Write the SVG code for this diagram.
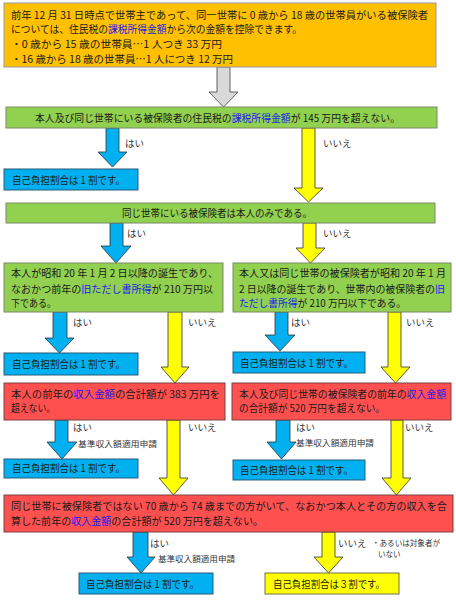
<svg xmlns="http://www.w3.org/2000/svg" width="456" height="600" viewBox="0 0 456 600">
<style>
text{font-family:"Noto Sans CJK JP","Noto Sans CJK SC",sans-serif;fill:#1a1a1a;}
.t{font-size:10px;}
.lb{font-size:9.5px;fill:#333;}
.sm{font-size:7.5px;fill:#333;}
.k{fill:#1a1aee;}
.or{fill:#FFC000;stroke:#9a9a9a;stroke-width:1;}
.gr{fill:#92D050;stroke:#7a8a6a;stroke-width:1;}
.bl{fill:#00B0F0;stroke:#2a5a78;stroke-width:1;}
.rd{fill:#FF5050;stroke:#7a4040;stroke-width:1;}
.ye{fill:#FFFF00;stroke:#707050;stroke-width:1;}
.ab{fill:#00B0F0;stroke:#303030;stroke-width:0.8;}
.ay{fill:#FFFF00;stroke:#303030;stroke-width:0.8;}
.ag{fill:#D9D9D9;stroke:#404040;stroke-width:0.8;}
</style>
<rect width="456" height="600" fill="#fff"/>
<g id="connectors">
<polygon class="ag" points="217,67 230,67 230,92 238,92 223.5,107 209,92 217,92"/>
<polygon class="ab" points="106,128 119,128 119,152 127,152 112.5,167 98,152 106,152"/>
<polygon class="ay" points="302,128 315,128 315,188 323,188 308.5,202 294,188 302,188"/>
<polygon class="ab" points="110,223 123,223 123,246 131,246 116,263 101,246 110,246"/>
<polygon class="ay" points="303,223 316,223 316,248 325,248 310.5,263 296,248 303,248"/>
<polygon class="ab" points="53,312 67,312 67,338 74,338 59.5,353 45,338 53,338"/>
<polygon class="ay" points="168,312 182,312 182,367 189,367 175,383 161,367 168,367"/>
<polygon class="ab" points="275,312 288,312 288,335 295,335 280,351 265,335 275,335"/>
<polygon class="ay" points="388,312 401,312 401,367 410,367 395.5,383 381,367 388,367"/>
<polygon class="ab" points="55,420 68,420 68,442 77,442 62,459 47,442 55,442"/>
<polygon class="ay" points="167,420 180,420 180,478 188,478 173.5,495 159,478 167,478"/>
<polygon class="ab" points="276,420 290,420 290,442 296,442 281.5,459 267,442 276,442"/>
<polygon class="ay" points="391,420 403,420 403,478 411,478 396.5,495 382,478 391,478"/>
<polygon class="ab" points="133,532 148,532 148,557 155,557 141,573 127,557 133,557"/>
<polygon class="ay" points="322,532 335,532 335,557 343,557 328.5,573 314,557 322,557"/>
<text class="lb" x="125" y="147">はい</text>
<text class="lb" x="323" y="147">いいえ</text>
<text class="lb" x="127" y="237">はい</text>
<text class="lb" x="323" y="237">いいえ</text>
<text class="lb" x="73" y="326">はい</text>
<text class="lb" x="188" y="326">いいえ</text>
<text class="lb" x="291" y="326">はい</text>
<text class="lb" x="406" y="326">いいえ</text>
<text class="lb" x="73" y="431">はい</text>
<text class="sm" x="78" y="447" textLength="79" lengthAdjust="spacingAndGlyphs">基準収入額適用申請</text>
<text class="lb" x="188" y="431">いいえ</text>
<text class="lb" x="296" y="431">はい</text>
<text class="sm" x="296" y="446" textLength="78" lengthAdjust="spacingAndGlyphs">基準収入額適用申請</text>
<text class="lb" x="405" y="431">いいえ</text>
<text class="lb" x="150" y="547">はい</text>
<text class="sm" x="158" y="562" textLength="77" lengthAdjust="spacingAndGlyphs">基準収入額適用申請</text>
<text class="lb" x="338" y="547">いいえ</text>
<text class="sm" x="372" y="546" textLength="68" lengthAdjust="spacingAndGlyphs">・あるいは対象者が</text>
<text class="sm" x="378" y="557">いない</text>
</g>
<g id="intro">
<rect class="or" x="4" y="3" width="432" height="64"/>
<text class="t" x="11" y="18.5" textLength="417" lengthAdjust="spacingAndGlyphs">前年 12 月 31 日時点で世帯主であって、同一世帯に 0 歳から 18 歳の世帯員がいる被保険者</text>
<text class="t" x="11" y="33" textLength="291" lengthAdjust="spacingAndGlyphs">については、住民税の<tspan class="k">課税所得金額</tspan>から次の金額を控除できます。</text>
<text class="t" x="11" y="48" textLength="211" lengthAdjust="spacingAndGlyphs">・0 歳から 15 歳の世帯員…1 人つき 33 万円</text>
<text class="t" x="11" y="63" textLength="222" lengthAdjust="spacingAndGlyphs">・16 歳から 18 歳の世帯員…1 人につき 12 万円</text>
</g>
<g id="q1">
<rect class="gr" x="6" y="107" width="431" height="21"/>
<text class="t" x="35" y="121.5" textLength="365" lengthAdjust="spacingAndGlyphs">本人及び同じ世帯にいる被保険者の住民税の<tspan class="k">課税所得金額</tspan>が 145 万円を超えない。</text>
</g>
<g id="r1">
<rect class="bl" x="4" y="169" width="134" height="21"/>
<text class="t" x="12" y="183.5" textLength="113" lengthAdjust="spacingAndGlyphs">自己負担割合は 1 割です。</text>
</g>
<g id="q2">
<rect class="gr" x="6" y="203" width="429" height="20"/>
<text class="t" x="122" y="216.5" textLength="190" lengthAdjust="spacingAndGlyphs">同じ世帯にいる被保険者は本人のみである。</text>
</g>
<g id="q3a">
<rect class="gr" x="4" y="263" width="219" height="49"/>
<text class="t" x="11" y="277" textLength="207" lengthAdjust="spacingAndGlyphs">本人が昭和 20 年 1 月 2 日以降の誕生であり、</text>
<text class="t" x="11" y="293" textLength="202" lengthAdjust="spacingAndGlyphs">なおかつ前年の<tspan class="k">旧ただし書所得</tspan>が 210 万円以</text>
<text class="t" x="11" y="307" textLength="45" lengthAdjust="spacingAndGlyphs">下である。</text>
</g>
<g id="q3b">
<rect class="gr" x="233" y="263" width="218" height="49"/>
<text class="t" x="239" y="277" textLength="207" lengthAdjust="spacingAndGlyphs">本人又は同じ世帯の被保険者が昭和 20 年 1 月</text>
<text class="t" x="239" y="293" textLength="206" lengthAdjust="spacingAndGlyphs">2 日以降の誕生であり、世帯内の被保険者の<tspan class="k">旧</tspan></text>
<text class="t" x="239" y="307" textLength="167" lengthAdjust="spacingAndGlyphs"><tspan class="k">ただし書所得</tspan>が 210 万円以下である。</text>
</g>
<g id="r3a">
<rect class="bl" x="4" y="353" width="134" height="22"/>
<text class="t" x="12" y="368" textLength="113" lengthAdjust="spacingAndGlyphs">自己負担割合は 1 割です。</text>
</g>
<g id="r3b">
<rect class="bl" x="233" y="352" width="132" height="21"/>
<text class="t" x="240" y="366.5" textLength="113" lengthAdjust="spacingAndGlyphs">自己負担割合は 1 割です。</text>
</g>
<g id="q4a">
<rect class="rd" x="4" y="383" width="221" height="37"/>
<text class="t" x="11" y="397.5" textLength="209" lengthAdjust="spacingAndGlyphs">本人の前年の<tspan class="k">収入金額</tspan>の合計額が 383 万円を</text>
<text class="t" x="11" y="411.5" textLength="44" lengthAdjust="spacingAndGlyphs">超えない。</text>
</g>
<g id="q4b">
<rect class="rd" x="232" y="383" width="219" height="37"/>
<text class="t" x="239" y="397.5" textLength="207" lengthAdjust="spacingAndGlyphs">本人及び同じ世帯の被保険者の前年の<tspan class="k">収入金額</tspan></text>
<text class="t" x="239" y="411.5" textLength="146" lengthAdjust="spacingAndGlyphs">の合計額が 520 万円を超えない。</text>
</g>
<g id="r4a">
<rect class="bl" x="4" y="459" width="134" height="19"/>
<text class="t" x="12" y="472" textLength="113" lengthAdjust="spacingAndGlyphs">自己負担割合は 1 割です。</text>
</g>
<g id="r4b">
<rect class="bl" x="233" y="460" width="132" height="20"/>
<text class="t" x="240" y="473.5" textLength="113" lengthAdjust="spacingAndGlyphs">自己負担割合は 1 割です。</text>
</g>
<g id="q5">
<rect class="rd" x="4" y="495" width="449" height="37"/>
<text class="t" x="11" y="509.5" textLength="436" lengthAdjust="spacingAndGlyphs">同じ世帯に被保険者ではない 70 歳から 74 歳までの方がいて、なおかつ本人とその方の収入を合</text>
<text class="t" x="11" y="525" textLength="252" lengthAdjust="spacingAndGlyphs">算した前年の<tspan class="k">収入金額</tspan>の合計額が 520 万円を超えない。</text>
</g>
<g id="r5a">
<rect class="bl" x="79" y="573" width="134" height="21"/>
<text class="t" x="86" y="587.5" textLength="113" lengthAdjust="spacingAndGlyphs">自己負担割合は 1 割です。</text>
</g>
<g id="r5b">
<rect class="ye" x="265" y="573" width="134" height="21"/>
<text class="t" x="273" y="587.5" textLength="112" lengthAdjust="spacingAndGlyphs">自己負担割合は３割です。</text>
</g>
</svg>
